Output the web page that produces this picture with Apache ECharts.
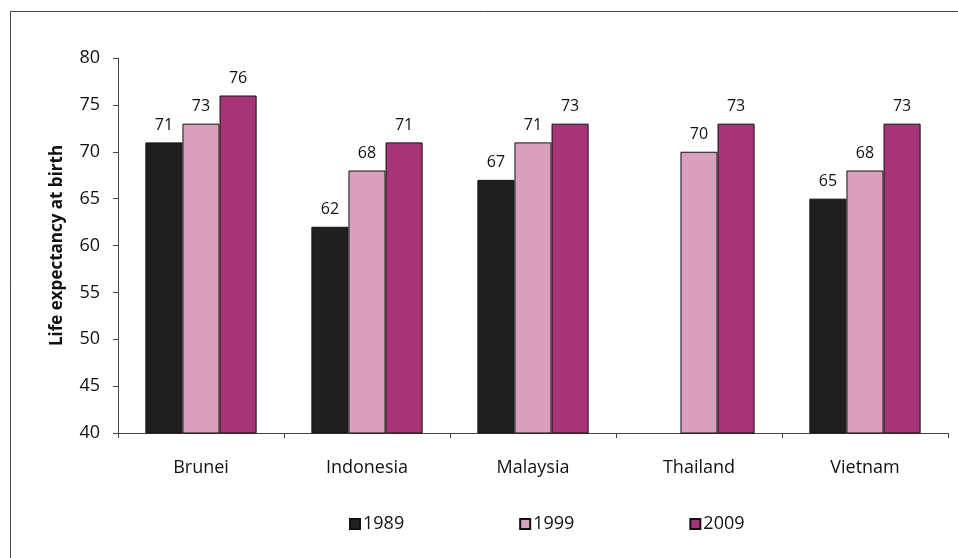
<!DOCTYPE html>
<html>
<head>
<meta charset="utf-8">
<script src="https://cdn.jsdelivr.net/npm/echarts@6/dist/echarts.min.js"></script>
<style>
  html, body { margin: 0; padding: 0; background: #fff; }
  #chart { width: 958px; height: 558px; }
</style>
</head>
<body>
<div id="chart"></div>
<script>
var countries = ['Brunei', 'Indonesia', 'Malaysia', 'Thailand', 'Vietnam'];
var years = ['1989', '1999', '2009'];
var values1989 = [71, 62, 67, null, 65];
var values1999 = [73, 68, 71, 70, 68];
var values2009 = [76, 71, 73, 73, 73];
var colors = ['#1f1f1f', '#d9a0bd', '#a63476'];

var font = '"Open Sans", sans-serif';

function makeSeries(name, data, color) {
    return {
        name: name,
        type: 'bar',
        data: data,
        barGap: 0,
        barCategoryGap: '33%',
        itemStyle: {
            color: color,
            borderColor: '#111',
            borderWidth: 1
        },
        label: {
            show: true,
            position: 'top',
            distance: 9,
            color: '#111',
            fontFamily: font,
            fontSize: 16
        }
    };
}

var dom = document.getElementById('chart');
var myChart = echarts.init(dom);
var option = {
    animation: false,
    backgroundColor: '#fff',
    graphic: [
        {
            type: 'rect',
            shape: { x: 10.5, y: 11.5, width: 1000, height: 1000 },
            style: { fill: 'none', stroke: '#444', lineWidth: 1 }
        }
    ],
    grid: {
        left: 118,
        right: 10,
        top: 58,
        bottom: 125
    },
    legend: {
        data: years,
        bottom: 20,
        left: 344,
        itemWidth: 10,
        itemHeight: 10,
        itemGap: 115,
        icon: 'rect',
        textStyle: {
            fontFamily: font,
            fontSize: 18,
            color: '#111',
            padding: [0, 0, 0, -2]
        }
    },
    xAxis: {
        type: 'category',
        data: countries,
        axisLine: { lineStyle: { color: '#444' } },
        axisTick: { show: true, length: 5, lineStyle: { color: '#444' } },
        axisLabel: {
            margin: 26,
            color: '#111',
            fontFamily: font,
            fontSize: 18
        }
    },
    yAxis: {
        type: 'value',
        min: 40,
        max: 80,
        interval: 5,
        name: 'Life expectancy at birth',
        nameLocation: 'middle',
        nameGap: 52,
        nameTextStyle: {
            fontFamily: font,
            fontSize: 17,
            fontWeight: 'bold',
            color: '#111'
        },
        axisLine: { show: true, lineStyle: { color: '#444' } },
        axisTick: { show: true, length: 5, lineStyle: { color: '#444' } },
        splitLine: { show: false },
        axisLabel: {
            margin: 18,
            color: '#111',
            fontFamily: font,
            fontSize: 18
        }
    },
    series: [
        makeSeries(years[0], values1989, colors[0]),
        makeSeries(years[1], values1999, colors[1]),
        makeSeries(years[2], values2009, colors[2])
    ]
};
myChart.setOption(option);
</script>
</body>
</html>
